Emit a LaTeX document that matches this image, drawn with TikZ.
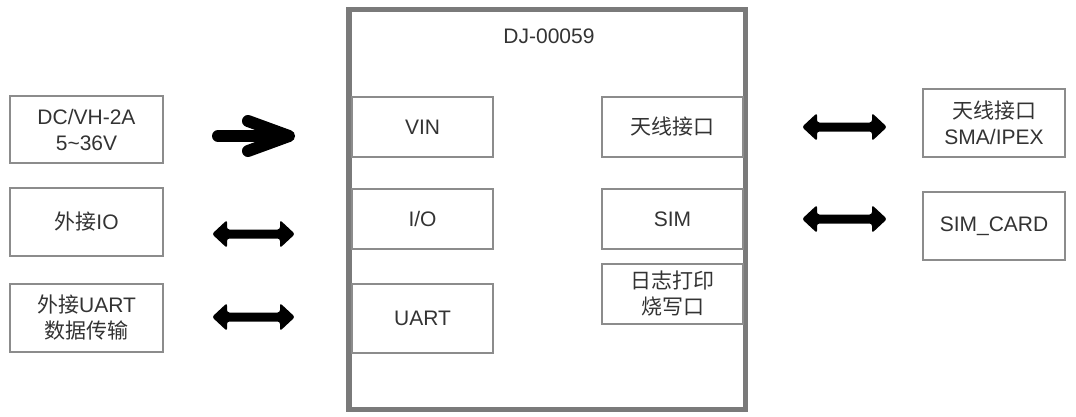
\documentclass[tikz,border=0pt]{standalone}
\usepackage{fontspec}
\setmainfont{Liberation Sans}
\newfontfamily\cjk{Noto Sans CJK SC}
\definecolor{boxgray}{HTML}{8C8C8C}
\definecolor{maingray}{HTML}{7A7A7A}
\definecolor{txtgray}{HTML}{333333}
\tikzset{
  blk/.style={draw=boxgray, line width=1.2pt, inner sep=0pt, align=center,
    text=txtgray, font=\fontsize{21pt}{26pt}\selectfont},
}
\newcommand{\dblarrow}[3]{% a, b, c
  \fill[black, rounded corners=2.5pt] (#1,#3) -- (#1+15,#3-14) -- (#1+15,#3-4.5) -- (#2-15,#3-4.5) -- (#2-15,#3-14) -- (#2,#3) -- (#2-15,#3+14) -- (#2-15,#3+4.5) -- (#1+15,#3+4.5) -- (#1+15,#3+14) -- cycle;}
\begin{document}
\begin{tikzpicture}[x=1pt,y=-1pt]
\useasboundingbox (0,0) rectangle (1076,416);
% main box
\node[draw=maingray, line width=5.5pt, minimum width=396.5pt, minimum height=400pt, inner sep=0pt] (main) at (547.25,209.5) {};
\node[text=txtgray, font=\fontsize{21pt}{26pt}\selectfont] (title) at (549,36) {DJ-00059};
% left boxes
\node[blk, minimum width=153pt, minimum height=67pt] (dc) at (86.5,129.5) {DC/VH-2A\\5\textasciitilde 36V};
\node[blk, minimum width=153pt, minimum height=68pt] (eio) at (86.5,222) {{\cjk 外接}IO};
\node[blk, minimum width=153pt, minimum height=68pt] (euart) at (86.5,318) {{\cjk 外接}UART\\{\cjk 数据传输}};
% inner boxes
\node[blk, minimum width=141pt, minimum height=60pt] (vin) at (422.5,127) {VIN};
\node[blk, minimum width=141pt, minimum height=60pt] (io) at (422.5,219) {I/O};
\node[blk, minimum width=141pt, minimum height=69pt] (uart) at (422.5,318.5) {UART};
\node[blk, minimum width=141pt, minimum height=60pt] (ant) at (672.5,127) {\cjk 天线接口};
\node[blk, minimum width=141pt, minimum height=60pt] (sim) at (672.5,219) {SIM};
\node[blk, minimum width=141pt, minimum height=60pt] (log) at (672.5,294) {\cjk 日志打印\\\cjk 烧写口};
% right boxes
\node[blk, minimum width=142pt, minimum height=68pt] (rant) at (994,123) {{\cjk 天线接口}\\SMA/IPEX};
\node[blk, minimum width=142pt, minimum height=68pt] (rsim) at (994,226) {SIM\_CARD};
% power arrow
\draw[black, line width=12pt, line cap=round, line join=round] (218,136) -- (288,136);
\draw[black, line width=12pt, line cap=round, line join=round] (248,121) -- (289,136) -- (248,151);
% double arrows
\dblarrow{212}{295}{234}
\dblarrow{212}{295}{317}
\dblarrow{802}{887}{127}
\dblarrow{802}{887}{219}
\end{tikzpicture}
\end{document}
